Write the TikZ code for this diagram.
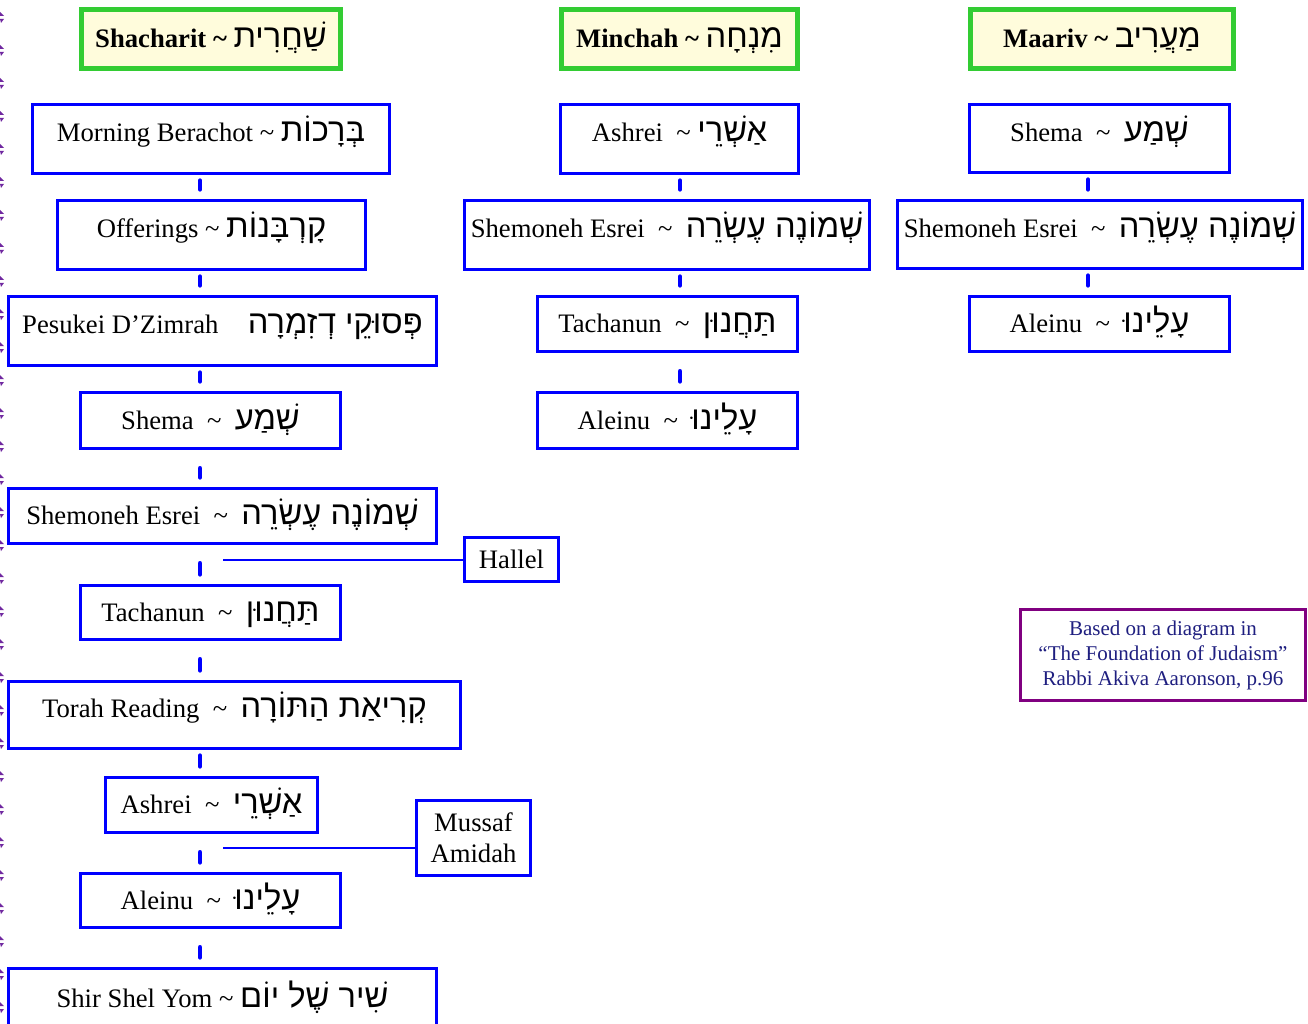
\documentclass[tikz,border=0pt]{standalone}
\usepackage{fontspec}
\setmainfont{Liberation Serif}
\newfontfamily\heb[Script=Hebrew]{Liberation Sans}
\TeXXeTstate=1
\newcommand\mytilde{\textasciitilde}
\newcommand\hb[1]{{\heb\mdseries\fontsize{24.5}{28}\selectfont\beginR #1\endR}}
\definecolor{bblue}{RGB}{0,0,255}
\definecolor{hgreen}{RGB}{51,204,51}
\definecolor{hyellow}{RGB}{255,252,220}
\definecolor{cpurple}{RGB}{128,0,128}
\definecolor{cnavy}{RGB}{31,31,128}
\definecolor{mkpurple}{RGB}{112,40,160}
\tikzset{
  box/.style={draw=bblue, line width=2.25pt, fill=white, inner sep=0pt, font=\fontsize{20}{23.5}\selectfont},
  tall/.style={box, text height=10pt, text depth=6pt},
  norm/.style={box, text height=15pt, text depth=2pt},
  hdr/.style={draw=hgreen, line width=3.75pt, fill=hyellow, inner sep=0pt, text height=15pt, text depth=2pt, font=\bfseries\fontsize{20}{23.5}\selectfont},
  seg/.style={draw=bblue, line width=3.6pt, line cap=round},
  segA/.style={seg, shorten <=4.3pt, shorten >=7.3pt},
  segB/.style={seg, shorten <=13.8pt, shorten >=7.3pt},
  side/.style={draw=bblue, line width=1.5pt},
  credit/.style={draw=cpurple, line width=2.25pt, align=center, text=cnavy, inner sep=0pt, font=\fontsize{15.75}{18.75}\selectfont},
  mk/.style={fill=mkpurple}
}
\begin{document}
\begin{tikzpicture}[x=0.75pt, y=-0.75pt]
\useasboundingbox (0,0) rectangle (1308,1023);
\clip (0,0) rectangle (1308,1023);
\fill[white] (0,0) rectangle (1308,1023);

% left edge marks
\foreach \k in {0,...,30} {
  \pgfmathsetmacro\yy{18+33*\k}
  \fill[mk] (0,\yy-6) -- (4,\yy-2) -- (0,\yy-2) -- cycle;
  \fill[mk] (0,\yy+1) -- (4,\yy+1) -- (1,\yy+5) -- cycle;
}

\coordinate (cA) at (200,0);
\coordinate (cB) at (680,0);
\coordinate (cC) at (1088,0);

% headers
\node[hdr, minimum width=194.25pt, minimum height=44.25pt] (hs) at (211,39) {Shacharit \mytilde{} \hb{שַׁחֲרִית}};
\node[hdr, minimum width=177pt, minimum height=44.25pt] (hm) at (679.5,39) {Minchah \mytilde{} \hb{מִנְחָה}};
\node[hdr, minimum width=197.25pt, minimum height=44.25pt] (hv) at (1102,39) {Maariv \mytilde{} \hb{מַעֲרִיב}};

% Shacharit column
\node[tall, minimum width=267.75pt, minimum height=51.75pt] (mb) at (211,139) {Morning Berachot \mytilde{} \hb{בְּרָכוֹת}};
\node[tall, minimum width=231pt, minimum height=51.75pt] (off) at (211.5,235) {Offerings \mytilde{} \hb{קָרְבָּנוֹת}};
\node[tall, minimum width=321pt, minimum height=51.75pt] (pes) at (222.5,331) {Pesukei D’Zimrah\hspace{22pt}\hb{פְּסוּקֵי דְזִמְרָה}};
\node[norm, minimum width=195pt, minimum height=42pt] (sh) at (210.5,420.5) {Shema \ \mytilde{} \ \hb{שְׁמַע}};
\node[norm, minimum width=321pt, minimum height=41.25pt] (se) at (222.5,516) {Shemoneh Esrei \ \mytilde{} \ \hb{שְׁמוֹנֶה עֶשְׂרֵה}};
\node[norm, minimum width=195pt, minimum height=40.5pt] (ta) at (210.5,612.5) {Tachanun \ \mytilde{} \ \hb{תַּחֲנוּן}};
\node[tall, minimum width=339pt, minimum height=50.25pt] (tr) at (234.5,715) {Torah Reading \ \mytilde{} \ \hb{קְרִיאַת הַתּוֹרָה}};
\node[norm, minimum width=159pt, minimum height=41.25pt] (as) at (211.5,805) {Ashrei \ \mytilde{} \ \hb{אַשְׁרֵי}};
\node[norm, minimum width=195pt, minimum height=40.5pt] (al) at (210.5,900.5) {Aleinu \ \mytilde{} \ \hb{עָלֵינוּ}};
\node[norm, minimum width=321pt, minimum height=45pt] (sy) at (222.5,998.5) {Shir Shel Yom \mytilde{} \hb{שִׁיר שֶׁל יוֹם}};

\draw[segA] (mb.south -| cA) -- (off.north -| cA);
\draw[segA] (off.south -| cA) -- (pes.north -| cA);
\draw[segA] (pes.south -| cA) -- (sh.north -| cA);
\draw[segB] (sh.south -| cA) -- (se.north -| cA);
\draw[segB] (se.south -| cA) -- (ta.north -| cA);
\draw[segB] (ta.south -| cA) -- (tr.north -| cA);
\draw[segA] (tr.south -| cA) -- (as.north -| cA);
\draw[segB] (as.south -| cA) -- (al.north -| cA);
\draw[segB] (al.south -| cA) -- (sy.north -| cA);

% Hallel and Mussaf
\node[box, minimum width=70.5pt, minimum height=33pt, text height=15pt, text depth=2pt] (hal) at (511.5,559.5) {Hallel};
\node[box, minimum width=85.5pt, minimum height=56.25pt, align=center] (mus) at (473.5,838) {Mussaf\\Amidah};
\coordinate (hl) at (223,559.5);
\coordinate (ml) at (223,848);
\draw[side] (hl) -- (hal.west);
\draw[side] (ml) -- (ml -| mus.west);

% Minchah column
\node[tall, minimum width=178.5pt, minimum height=51.75pt] (mas) at (679.5,139) {Ashrei \ \mytilde{} \hb{אַשְׁרֵי}};
\node[tall, minimum width=303.75pt, minimum height=51.75pt] (mse) at (667,235) {Shemoneh Esrei \ \mytilde{} \ \hb{שְׁמוֹנֶה עֶשְׂרֵה}};
\node[norm, minimum width=195pt, minimum height=41.25pt] (mta) at (667.5,324) {Tachanun \ \mytilde{} \ \hb{תַּחֲנוּן}};
\node[norm, minimum width=195pt, minimum height=42pt] (mal) at (667.5,420.5) {Aleinu \ \mytilde{} \ \hb{עָלֵינוּ}};
\draw[segA] (mas.south -| cB) -- (mse.north -| cB);
\draw[segA] (mse.south -| cB) -- (mta.north -| cB);
\draw[segB] (mta.south -| cB) -- (mal.north -| cB);

% Maariv column
\node[tall, minimum width=195pt, minimum height=51pt] (vsh) at (1099.5,138.5) {Shema \ \mytilde{} \ \hb{שְׁמַע}};
\node[tall, minimum width=303.75pt, minimum height=51pt] (vse) at (1100,234.5) {Shemoneh Esrei \ \mytilde{} \ \hb{שְׁמוֹנֶה עֶשְׂרֵה}};
\node[norm, minimum width=195pt, minimum height=41.25pt] (val) at (1099.5,324) {Aleinu \ \mytilde{} \ \hb{עָלֵינוּ}};
\draw[segA] (vsh.south -| cC) -- (vse.north -| cC);
\draw[segA] (vse.south -| cC) -- (val.north -| cC);

% credit
\node[credit, minimum width=213.75pt, minimum height=68.25pt] (cr) at (1163,655) {Based on a diagram in\\“The Foundation of Judaism”\\Rabbi Akiva Aaronson, p.96};
\end{tikzpicture}
\end{document}
